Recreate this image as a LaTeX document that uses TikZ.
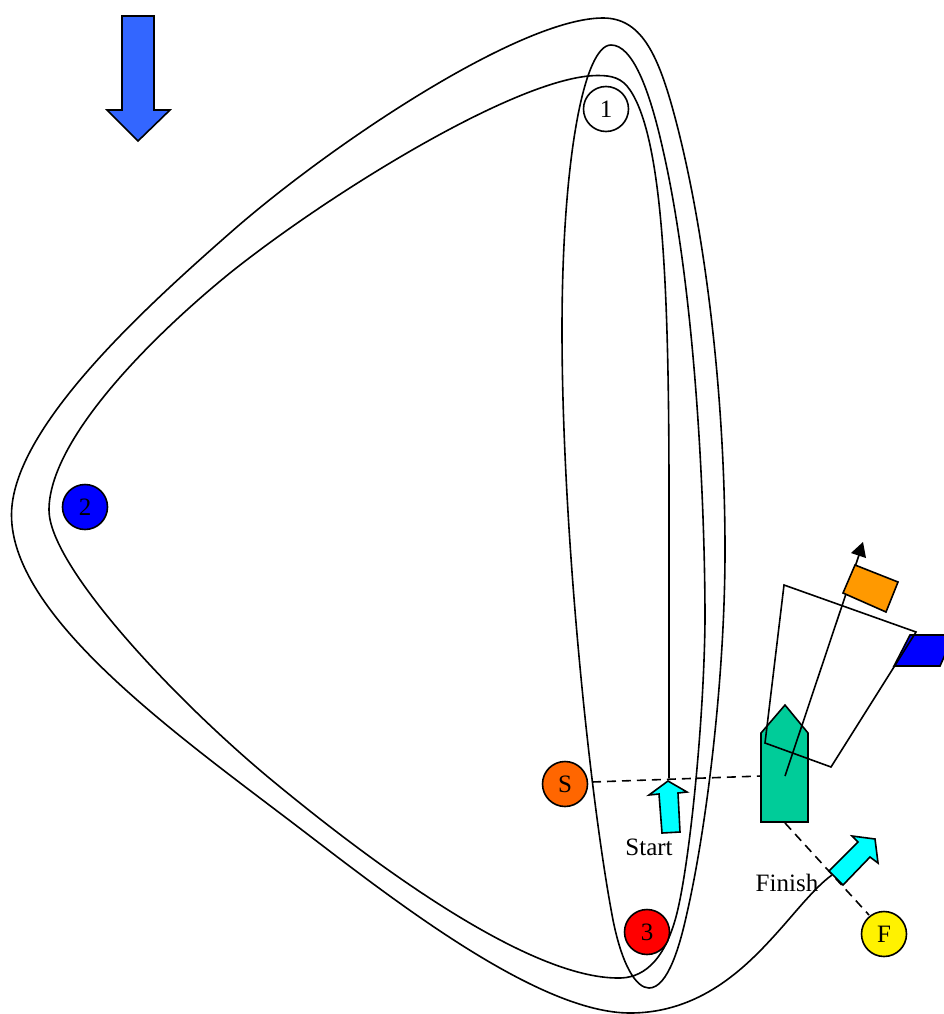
\documentclass[tikz,border=0pt]{standalone}
\usepackage{fontspec}
\setmainfont{Liberation Serif}
\definecolor{cS}{RGB}{255,102,0}
\definecolor{cBoat}{RGB}{0,204,153}
\definecolor{cFlag}{RGB}{255,153,0}
\definecolor{cWind}{RGB}{51,102,255}
\definecolor{cArrow}{RGB}{0,255,255}
\definecolor{cBlue}{RGB}{0,0,255}
\begin{document}
\begin{tikzpicture}[x=1pt,y=-1pt,line width=1.6pt,
  buoy/.style={circle,draw,minimum size=45pt,inner sep=0pt,font=\fontsize{25}{27}\selectfont},
  lbl/.style={inner sep=0pt,font=\fontsize{25}{27}\selectfont},
  poly/.style={draw,line join=miter},
  lineflag/.style={dash pattern=on 9pt off 6pt}]
\useasboundingbox (0,0) rectangle (944,1014);
\clip (0,0) rectangle (944,1014);
\fill[white] (0,0) rectangle (944,1014);
% course
\draw (669,778) -- (669,500)
  .. controls (669,300) and (664,140) .. (630,90)
  .. controls (622,78) and (612,75.5) .. (598,75.5)
  .. controls (520,75.5) and (330,193) .. (230,273)
  .. controls (150,338) and (49,440) .. (49,510)
  .. controls (49,565) and (170,695) .. (268,777)
  .. controls (380,870) and (530,978) .. (618,978)
  .. controls (640,978.5) and (664,965) .. (677,913)
  .. controls (690,860) and (704,720) .. (705,620)
  .. controls (705,500) and (695,290) .. (663,150)
  .. controls (649,87) and (632,45) .. (611,45)
  .. controls (584,45) and (562,160) .. (562,330)
  .. controls (562,530) and (590,800) .. (613,920)
  .. controls (622,965) and (636,988) .. (649,988)
  .. controls (668,988) and (680,945) .. (687,913)
  .. controls (706,830) and (725,680) .. (725,550)
  .. controls (725,400) and (706,230) .. (673,110)
  .. controls (657,52) and (640,18) .. (603,18)
  .. controls (520,18) and (330,145) .. (230,233)
  .. controls (140,312) and (11.5,430) .. (11.5,515)
  .. controls (11.5,620) and (186,741) .. (306,833)
  .. controls (400,905) and (540,1013) .. (630,1013)
  .. controls (700,1013) and (745,968) .. (775,935)
  .. controls (795,913) and (815,887) .. (832,875);
% marks
\node[buoy,fill=cS] (S) at (565,784) {S};
\node[buoy,fill=red] (m3) at (647,932) {3};
\node[buoy,fill=yellow] (F) at (884,934) {F};
\node[buoy] (m1) at (606,109) {1};
\node[buoy,fill=cBlue] (m2) at (85,507) {2};
% start and finish lines
\coordinate (boatA) at (761,776);
\coordinate (boatB) at (785,823);
\coordinate (lineS) at (592,782);
\coordinate (lineF) at (869,915);
\draw[lineflag] (lineS) -- (boatA);
\draw[lineflag] (boatB) -- (lineF);
% boat
\draw[poly,fill=cBoat] (761,822) -- (761,733) -- (785,705) -- (808,733) -- (808,822) -- cycle;
% cyan arrows
\draw[poly,fill=cArrow] (668,781) -- (687,792) -- (678,793) -- (680,832) -- (662,833) -- (659,794) -- (649,795) -- cycle;
\draw[poly,fill=cArrow] (875,839) -- (878,863) -- (870,857) -- (843,885) -- (829,871) -- (858,842) -- (852,836) -- cycle;
% wing
\draw[poly,fill=cBlue] (910,635) -- (948,635) -- (948,648) -- (940,666) -- (894,666) -- cycle;
\draw[poly] (784,585) -- (916,632) -- (831,767) -- (765,743) -- cycle;
% mast and flag
\coordinate (mastFoot) at (785,776);
\coordinate (mastTop) at (860,552);
\draw (mastFoot) -- (mastTop);
\fill (863,542) -- (866,558) -- (851,553) -- cycle;
\draw[poly,fill=cFlag] (855,565) -- (898,582) -- (886,612) -- (843,593) -- cycle;
% wind
\draw[poly,fill=cWind] (122,16) -- (154,16) -- (154,110) -- (170,110) -- (138,141) -- (107,110) -- (122,110) -- cycle;
\node[lbl] (startL) at (649,847) {Start};
\node[lbl] (finishL) at (787,883) {Finish};
\end{tikzpicture}
\end{document}
